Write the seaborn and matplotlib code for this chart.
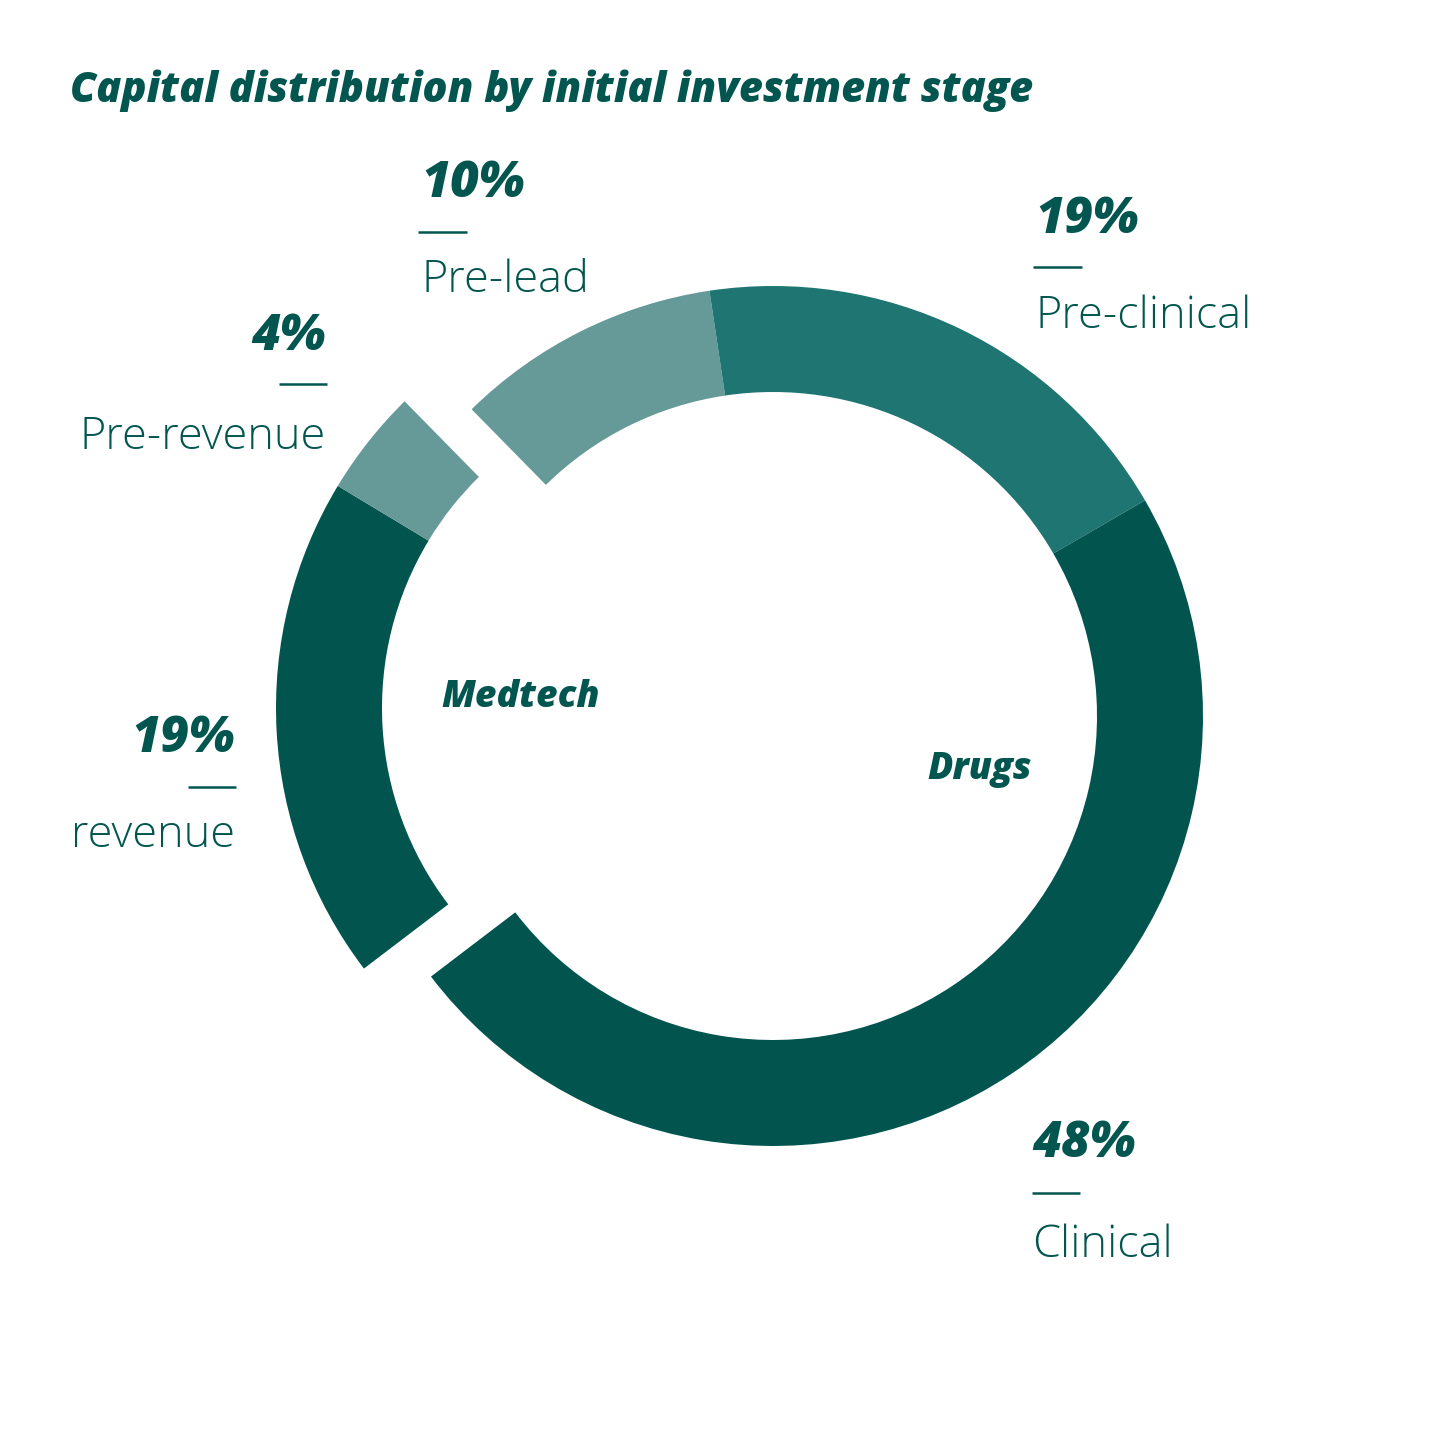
import matplotlib
matplotlib.use("Agg")
import matplotlib.pyplot as plt
import seaborn as sns

sns.set_theme(style="white")
plt.rcParams['font.family'] = ['Open Sans', 'DejaVu Sans']

# ---- data ----
categories = ["Pre-lead", "Pre-clinical", "Clinical", "revenue", "Pre-revenue"]
groups = ["Drugs", "Drugs", "Drugs", "Medtech", "Medtech"]
shares = [10, 19, 48, 19, 4]
pct_labels = ["10%", "19%", "48%", "19%", "4%"]
group_names = ["Medtech", "Drugs"]
title = "Capital distribution by initial investment stage"

# ---- style / layout ----
W, H = 1440, 1439
TXT = "#03564F"
colors = {"Pre-lead": "#659A98", "Pre-clinical": "#1E7571", "Clinical": "#02554F",
          "revenue": "#02554F", "Pre-revenue": "#659A98"}
centers = {"Drugs": (773, 716), "Medtech": (706, 708)}
R, RING = 430, 106

fig = plt.figure(figsize=(W / 100, H / 100), dpi=100)
ax = fig.add_axes([0, 0, 1, 1])

for g in ["Drugs", "Medtech"]:
    cols = [colors[c] if grp == g else "none" for c, grp in zip(categories, groups)]
    cx, cy = centers[g]
    ax.pie(shares, colors=cols, startangle=134.5, counterclock=False,
           radius=R, center=(cx, H - cy),
           wedgeprops=dict(width=RING, linewidth=0, edgecolor="none"))

ax.set_xlim(0, W)
ax.set_ylim(0, H)
ax.set_aspect("equal")
ax.axis("off")

# label layout: (x, pct baseline, line y, line x0, x1, name baseline, ha)
layout = {
    "Pre-lead":    (421, 197, 232, 418, 467, 292, "left"),
    "Pre-clinical": (1035, 233, 267, 1033, 1082, 328, "left"),
    "Clinical":    (1032, 1157, 1193, 1032, 1080, 1257, "left"),
    "revenue":     (235, 752, 787, 188, 236, 847, "right"),
    "Pre-revenue": (326, 350, 384, 279, 327, 449, "right"),
}

for cat, pct in zip(categories, pct_labels):
    x, pb, ly, lx0, lx1, nb, ha = layout[cat]
    ax.text(x, H - pb, pct, ha=ha, va="baseline", fontsize=36, fontweight=800,
            fontstyle="italic", color=TXT)
    ax.plot([lx0, lx1], [H - ly, H - ly], color=TXT, lw=1.8, solid_capstyle="butt")
    ax.text(x, H - nb, cat, ha=ha, va="baseline", fontsize=32.5, fontweight="light",
            color=TXT)

group_pos = {"Medtech": (441, 707), "Drugs": (927, 779)}
for gname in group_names:
    gx, gy = group_pos[gname]
    ax.text(gx, H - gy, gname, ha="left", va="baseline", fontsize=26.8,
            fontweight=800, fontstyle="italic", color=TXT)

ax.text(70, H - 102, title, ha="left", va="baseline", fontsize=29.9,
        fontweight=800, fontstyle="italic", color=TXT)

fig.savefig("out.png", dpi=100, facecolor="white")
